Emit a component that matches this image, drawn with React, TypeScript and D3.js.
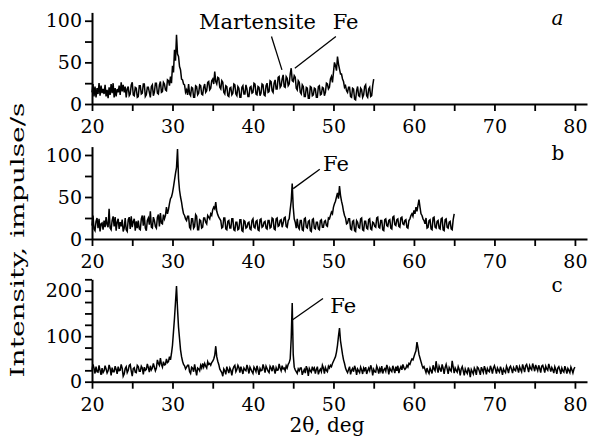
import React, { useEffect, useRef } from "react";
import * as d3 from "d3";

// sampling grid of the scans (2θ, deg)
const START = 20;
const STEP = 0.125;

// intensities, impulse/s, one row = 2 deg
const intensityA = [
  14, 24, 9, 21, 8, 19, 12, 25, 10, 22, 13, 18, 12, 23, 9, 17,
  7, 20, 11, 24, 13, 25, 8, 19, 9, 18, 14, 22, 11, 26, 15, 23,
  14, 21, 8, 18, 21, 10, 12, 23, 26, 11, 10, 20, 19, 8, 9, 22,
  22, 12, 13, 24, 24, 9, 11, 20, 20, 14, 8, 21, 23, 10, 14, 25,
  25, 13, 12, 23, 27, 14, 15, 26, 24, 17, 16, 29, 28, 22, 33, 25,
  46, 38, 65, 52, 83, 60, 57, 45, 41, 30, 29, 24, 23, 14, 17, 11,
  24, 12, 10, 20, 19, 8, 8, 22, 21, 11, 13, 23, 22, 12, 11, 20,
  24, 14, 16, 26, 27, 17, 19, 28, 30, 24, 39, 27, 24, 32, 31, 20,
  18, 28, 26, 14, 12, 22, 21, 10, 9, 19, 20, 11, 13, 24, 23, 12,
  10, 21, 19, 8, 8, 20, 22, 12, 12, 23, 18, 9, 9, 20, 21, 13,
  14, 25, 24, 12, 11, 21, 20, 10, 13, 24, 23, 11, 10, 22, 25, 14,
  15, 28, 27, 16, 14, 25, 29, 18, 18, 32, 33, 20, 22, 30, 35, 21,
  20, 33, 31, 22, 24, 36, 43, 28, 27, 34, 32, 19, 17, 28, 26, 14,
  12, 23, 21, 9, 9, 20, 19, 7, 7, 21, 20, 10, 11, 19, 18, 8,
  8, 21, 22, 11, 12, 20, 19, 10, 14, 25, 24, 18, 20, 30, 33, 26,
  38, 50, 46, 40, 57, 48, 42, 36, 36, 30, 27, 20, 22, 16, 14, 20,
  20, 9, 8, 19, 18, 6, 5, 16, 21, 10, 9, 19, 17, 8, 11, 21,
  23, 10, 8, 18, 20, 9, 10, 22, 30,
];

const intensityB = [
  16, 28, 12, 10, 21, 25, 13, 24, 9, 18, 19, 11, 22, 14, 26, 17,
  14, 36, 13, 11, 22, 27, 15, 26, 10, 20, 24, 12, 20, 15, 23, 9,
  13, 25, 11, 9, 23, 26, 12, 27, 14, 21, 24, 10, 21, 13, 22, 12,
  11, 24, 28, 16, 28, 13, 10, 22, 25, 17, 33, 14, 13, 26, 22, 15,
  13, 26, 29, 15, 31, 19, 18, 29, 24, 28, 38, 30, 35, 42, 48, 50,
  55, 62, 70, 78, 85, 107, 72, 58, 50, 44, 36, 30, 28, 24, 22, 27,
  27, 14, 12, 24, 24, 13, 15, 29, 27, 11, 11, 23, 22, 13, 14, 25,
  25, 20, 18, 28, 26, 24, 30, 28, 35, 38, 36, 44, 33, 29, 26, 24,
  22, 13, 14, 25, 25, 12, 11, 21, 22, 13, 13, 24, 24, 11, 10, 20,
  20, 11, 12, 23, 23, 10, 9, 22, 21, 13, 14, 19, 20, 12, 11, 22,
  24, 14, 13, 21, 22, 11, 10, 23, 24, 14, 15, 20, 21, 13, 12, 22,
  22, 13, 14, 25, 24, 12, 11, 24, 25, 15, 16, 22, 23, 14, 19, 25,
  26, 15, 14, 22, 24, 35, 45, 66, 38, 24, 20, 13, 24, 14, 12, 22,
  22, 11, 10, 24, 25, 14, 13, 21, 22, 10, 9, 23, 24, 13, 12, 20,
  20, 12, 11, 22, 23, 14, 14, 21, 22, 16, 15, 25, 24, 28, 32, 30,
  38, 42, 45, 50, 55, 48, 63, 52, 45, 40, 33, 28, 25, 18, 19, 24,
  24, 12, 11, 21, 22, 10, 9, 22, 20, 14, 13, 24, 25, 11, 10, 21,
  21, 13, 12, 23, 24, 12, 11, 20, 19, 15, 14, 25, 26, 14, 13, 22,
  22, 11, 10, 23, 24, 16, 15, 22, 23, 13, 12, 26, 27, 17, 16, 23,
  24, 15, 14, 25, 26, 18, 17, 22, 23, 14, 13, 22, 24, 28, 30, 27,
  34, 30, 38, 33, 40, 47, 38, 30, 28, 24, 22, 18, 25, 13, 14, 22,
  23, 12, 11, 25, 26, 14, 13, 21, 22, 13, 12, 24, 25, 11, 10, 23,
  24, 14, 13, 20, 21, 12, 11, 23, 30,
];

const intensityC = [
  26, 38, 30, 18, 33, 22, 21, 36, 25, 15, 30, 20, 24, 35, 28, 19,
  24, 37, 29, 14, 31, 22, 22, 34, 27, 17, 33, 24, 25, 38, 30, 12,
  17, 29, 33, 20, 25, 36, 38, 24, 12, 29, 31, 21, 20, 36, 33, 23,
  23, 34, 30, 16, 32, 25, 27, 39, 31, 21, 35, 26, 30, 40, 32, 24,
  30, 48, 40, 36, 52, 38, 32, 44, 37, 38, 50, 42, 44, 55, 48, 62,
  80, 110, 140, 175, 210, 160, 120, 95, 70, 55, 45, 38, 35, 28, 32, 36,
  36, 22, 18, 32, 30, 22, 38, 26, 14, 30, 28, 24, 36, 30, 40, 32,
  40, 34, 30, 44, 38, 40, 36, 42, 45, 50, 58, 78, 55, 45, 38, 28,
  24, 20, 12, 28, 24, 16, 33, 26, 19, 30, 25, 14, 27, 33, 36, 22,
  27, 36, 31, 20, 33, 25, 17, 30, 26, 24, 37, 29, 18, 32, 27, 22,
  18, 32, 28, 22, 35, 26, 15, 29, 24, 25, 38, 30, 20, 34, 29, 23,
  20, 34, 30, 23, 36, 27, 18, 31, 25, 26, 39, 30, 24, 35, 28, 30,
  24, 35, 30, 38, 42, 50, 95, 173, 60, 32, 26, 22, 18, 28, 24, 30,
  30, 15, 22, 27, 19, 34, 28, 13, 29, 24, 21, 33, 26, 30, 18, 27,
  33, 16, 24, 28, 22, 36, 30, 18, 31, 25, 22, 34, 30, 36, 33, 40,
  45, 50, 55, 65, 80, 100, 118, 90, 75, 60, 48, 40, 30, 24, 20, 27,
  33, 16, 25, 29, 22, 35, 28, 15, 28, 24, 20, 32, 26, 17, 30, 25,
  32, 17, 24, 30, 24, 36, 29, 14, 27, 22, 21, 34, 28, 18, 29, 23,
  34, 18, 26, 29, 23, 37, 30, 16, 30, 25, 22, 35, 27, 19, 33, 24,
  35, 19, 28, 33, 26, 38, 31, 27, 30, 36, 32, 40, 38, 45, 50, 48,
  55, 62, 68, 87, 75, 60, 52, 44, 36, 30, 33, 27, 20, 30, 22, 18,
  30, 24, 18, 36, 28, 24, 45, 30, 20, 34, 28, 22, 38, 30, 17, 31,
  38, 28, 17, 31, 26, 23, 46, 32, 19, 30, 25, 21, 33, 27, 14, 28,
  33, 24, 14, 28, 22, 18, 31, 24, 10, 27, 22, 17, 30, 25, 15, 32,
  30, 23, 15, 32, 26, 20, 34, 27, 16, 29, 24, 22, 35, 28, 18, 30,
  35, 27, 18, 30, 25, 21, 33, 26, 15, 28, 23, 20, 34, 28, 19, 31,
  34, 27, 19, 31, 26, 24, 36, 29, 20, 33, 27, 22, 38, 30, 21, 35,
  38, 30, 21, 35, 29, 26, 40, 32, 23, 37, 30, 24, 36, 29, 20, 34,
  36, 29, 20, 34, 28, 25, 39, 31, 22, 31, 26, 19, 33, 27, 17, 30,
  33, 26, 17, 30, 24, 21, 34, 27, 18, 29, 25, 20, 32, 26, 19, 28,
  32,
];

const xTicks = [20, 25, 30, 35, 40, 45, 50, 55, 60, 65, 70, 75, 80];
const xLabels = [20, 30, 40, 50, 60, 70, 80];
const yTicksAB = [0, 25, 50, 75, 100];
const yLabelsAB = [0, 50, 100];
const yTicksC = [0, 25, 50, 75, 100, 125, 150, 175, 200, 225];
const yLabelsC = [0, 100, 200];

const xTitle = "2θ, deg";
const yTitle = "Intensity,  impulse/s";

const font = "'DejaVu Serif', serif";

const panels = [
  {
    data: intensityA, yMax: 110, bottom: 104, top: 12.4,
    ticks: yTicksAB, labels: yLabelsAB, letter: "a", italic: true,
    notes: [
      { text: "Martensite", tx: 33.3, ty: 90, x1: 42.3, y1: 81, x2: 43.6, y2: 41 },
      { text: "Fe", tx: 49.9, ty: 90, x1: 50.3, y1: 81, x2: 45.2, y2: 43 },
    ],
  },
  {
    data: intensityB, yMax: 110, bottom: 239, top: 146.6,
    ticks: yTicksAB, labels: yLabelsAB, letter: "b", italic: false,
    notes: [{ text: "Fe", tx: 48.7, ty: 81, x1: 48.3, y1: 83, x2: 45.0, y2: 60 }],
  },
  {
    data: intensityC, yMax: 225, bottom: 381.7, top: 279.3,
    ticks: yTicksC, labels: yLabelsC, letter: "c", italic: false,
    notes: [{ text: "Fe", tx: 49.6, ty: 152, x1: 48.7, y1: 183, x2: 44.93, y2: 136 }],
  },
];

const XrdPanels = () => {
  const ref = useRef<SVGSVGElement>(null);

  useEffect(() => {
    const svg = d3.select(ref.current);
    svg.selectAll("*").remove();

    const x = d3.scaleLinear().domain([20, 81.5]).range([92, 587]);

    panels.forEach((p) => {
      const y = d3.scaleLinear().domain([0, p.yMax]).range([p.bottom, p.top]);

      const line = d3
        .line<number>()
        .x((d, i) => x(START + i * STEP))
        .y((d) => y(d));

      svg
        .append("path")
        .datum(p.data)
        .attr("fill", "none")
        .attr("stroke", "#000")
        .attr("stroke-width", 1.5)
        .attr("d", line);

      const gx = svg
        .append("g")
        .attr("transform", `translate(0,${p.bottom})`)
        .call(
          d3
            .axisBottom(x)
            .tickValues(xTicks)
            .tickFormat((d) => (xLabels.includes(+d) ? String(d) : ""))
            .tickSize(7)
            .tickSizeOuter(0)
            .tickPadding(9)
        );

      const gy = svg
        .append("g")
        .attr("transform", "translate(92,0)")
        .call(
          d3
            .axisLeft(y)
            .tickValues(p.ticks)
            .tickFormat((d) => (p.labels.includes(+d) ? String(d) : ""))
            .tickSize(7)
            .tickSizeOuter(0)
            .tickPadding(3)
        );

      [gx, gy].forEach((g) => {
        g.attr("font-size", 19).attr("font-family", font);
        g.select(".domain").attr("stroke-width", 2);
        g.selectAll(".tick line").attr("stroke-width", 1.8);
        g.selectAll(".tick text").attr("fill", "#000");
      });

      svg
        .append("text")
        .attr("x", x(77.1))
        .attr("y", p.top + 13)
        .attr("font-family", font)
        .attr("font-size", 20)
        .attr("font-style", p.italic ? "italic" : "normal")
        .text(p.letter);

      p.notes.forEach((n) => {
        svg
          .append("line")
          .attr("x1", x(n.x1))
          .attr("y1", y(n.y1))
          .attr("x2", x(n.x2))
          .attr("y2", y(n.y2))
          .attr("stroke", "#000")
          .attr("stroke-width", 1.3);
        svg
          .append("text")
          .attr("x", x(n.tx))
          .attr("y", y(n.ty))
          .attr("font-family", font)
          .attr("font-size", 21)
          .text(n.text);
      });
    });

    svg
      .append("text")
      .attr("x", 327)
      .attr("y", 432)
      .attr("text-anchor", "middle")
      .attr("font-family", font)
      .attr("font-size", 20)
      .text(xTitle);

    svg
      .append("text")
      .attr("transform", "translate(24,240) rotate(-90)")
      .attr("text-anchor", "middle")
      .attr("font-family", font)
      .attr("font-size", 19)
      .attr("textLength", 275)
      .attr("lengthAdjust", "spacingAndGlyphs")
      .text(yTitle);
  }, []);

  return (
    <svg
      ref={ref}
      width={596}
      height={439}
      style={{ position: "absolute", left: 0, top: 0, background: "#fff" }}
    />
  );
};

export default function App() {
  return <XrdPanels />;
}
